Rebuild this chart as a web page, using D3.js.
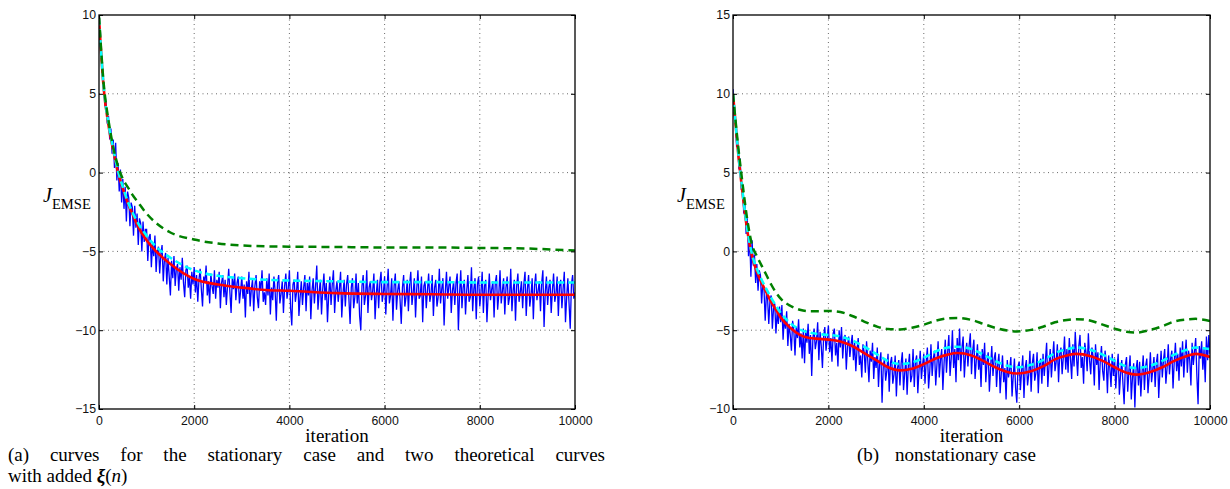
<!DOCTYPE html>
<html>
<head>
<meta charset="utf-8">
<script src="https://cdn.jsdelivr.net/npm/d3@7"></script>
<style>
body { margin: 0; background: #fff; }
svg { display: block; }
</style>
</head>
<body>
<svg id="chart" width="1230" height="489"></svg>
<script>
// tick values
const xTicks = [0, 2000, 4000, 6000, 8000, 10000];
const yTicksA = [-15, -10, -5, 0, 5, 10];
const yTicksB = [-10, -5, 0, 5, 10, 15];

// blue: simulated curve, one sample every 25 iterations
const blueStep = 25;
const blueA = [
  9.9, 8.4, 7.6, 6.1, 5.6, 4.3, 4.4, 3.1, 3.6, 2.1, 2.8, 1.2, 2.1, 0.3, 1.9, -0.5, 0.6, -1.2, 0.2, -1.9,
  -0.4, -2.3, -0.9, -3.1, -1.2, -1.6, -3.4, -1.9, -2.2, -4.0, -2.1, -3.5, -2.6, -4.6, -2.9, -3.2, -5.0, -3.1, -4.4, -3.6,
  -3.6, -5.6, -4.1, -3.9, -6.0, -4.5, -5.3, -4.0, -6.3, -5.0, -4.7, -6.4, -5.2, -4.6, -6.9, -5.5, -5.1, -7.1, -5.4, -6.6,
  -7.8, -5.6, -6.7, -5.3, -7.2, -6.1, -5.8, -7.5, -6.0, -6.8, -5.4, -7.0, -7.9, -6.2, -5.9, -7.3, -6.6, -8.0, -6.3, -7.1,
  -6.0, -7.6, -6.5, -8.2, -6.8, -6.1, -7.4, -8.5, -6.6, -7.0, -5.9, -7.8, -6.9, -8.3, -6.4, -7.2, -7.7, -6.2, -8.0, -6.8,
  -7.3, -6.3, -8.6, -7.0, -6.5, -7.9, -6.8, -8.4, -7.2, -6.1, -7.6, -8.9, -6.7, -7.4, -6.4, -8.1, -7.0, -6.6, -8.3, -7.5,
  -6.6, -8.0, -7.1, -9.2, -6.9, -7.7, -6.3, -8.5, -7.4, -6.8, -8.8, -7.2, -6.5, -7.9, -8.6, -6.9, -7.5, -6.2, -8.2, -7.6,
  -8.4, -6.7, -7.8, -6.4, -9.0, -7.3, -8.1, -6.6, -7.5, -9.4, -7.0, -6.5, -8.3, -7.7, -6.9, -8.9, -7.2, -6.4, -8.0, -7.4,
  -6.2, -8.6, -9.7, -7.1, -6.8, -8.2, -7.6, -6.3, -9.1, -7.9, -6.9, -8.4, -7.3, -6.5, -8.8, -7.0, -7.8, -6.6, -9.3, -7.5,
  -6.7, -8.3, -7.2, -5.9, -8.7, -7.6, -6.8, -9.0, -7.4, -6.4, -8.1, -7.0, -9.5, -7.8, -6.6, -8.4, -7.1, -6.2, -8.9, -7.5,
  -6.9, -8.2, -7.4, -6.3, -9.2, -7.7, -6.8, -8.5, -7.1, -6.5, -8.0, -9.6, -7.3, -6.7, -8.6, -7.9, -6.4, -8.3, -7.0, -9.1,
  -10.0, -7.2, -6.5, -8.4, -7.8, -6.2, -8.9, -7.3, -6.9, -8.1, -7.5, -6.4, -9.3, -7.7, -6.8, -8.6, -7.0, -6.3, -8.2, -7.6,
  -6.6, -9.0, -7.4, -6.1, -8.3, -7.8, -6.7, -9.4, -7.2, -6.4, -8.7, -7.5, -6.9, -8.1, -9.6, -7.3, -6.5, -8.5, -7.9, -6.8,
  -8.8, -7.1, -6.3, -8.4, -7.6, -6.7, -9.2, -7.4, -6.2, -8.0, -7.8, -6.6, -9.5, -7.2, -6.9, -8.6, -7.5, -6.4, -8.2, -7.7,
  -6.5, -9.1, -7.3, -6.8, -8.5, -7.9, -6.1, -8.3, -7.4, -6.7, -9.7, -7.6, -6.3, -8.0, -7.2, -6.6, -8.9, -7.5, -6.9, -8.4,
  -7.0, -6.4, -10.0, -7.7, -6.2, -8.6, -7.3, -6.8, -9.0, -7.5, -6.5, -8.2, -7.9, -6.0, -8.8, -7.4, -6.7, -9.3, -7.1, -6.6,
  -8.5, -7.6, -6.3, -8.9, -7.2, -6.8, -9.5, -7.8, -6.4, -8.1, -7.4, -6.9, -9.2, -7.0, -6.5, -8.7, -7.7, -6.2, -8.3, -7.5,
  -6.7, -9.0, -7.3, -6.6, -8.4, -7.9, -6.1, -8.8, -7.5, -6.8, -9.4, -7.2, -6.4, -8.2, -7.6, -6.9, -8.6, -7.1, -6.3, -9.1,
  -7.4, -6.5, -8.5, -7.8, -6.7, -9.3, -7.2, -6.4, -8.1, -7.5, -6.9, -8.8, -7.0, -6.2, -9.8, -7.6, -6.6, -8.4, -7.3, -6.8,
  -8.9, -7.5, -6.4, -8.2, -7.7, -6.6, -9.1, -7.2, -6.8, -8.6, -7.4, -6.3, -9.5, -7.9, -6.7, -8.3, -9.9, -7.1, -6.5, -8.0, -7.6
];
const blueB = [
  10.3, 8.6, 8.3, 6.7, 6.8, 5.2, 5.9, 3.9, 4.3, 2.4, 3.2, 1.1, 2.1, -0.3, 0.9, -1.6, 0.7, -0.9, -0.2, -2.0,
  -0.8, -2.5, -1.2, -1.5, -3.3, -2.0, -2.4, -4.4, -2.7, -3.0, -4.6, -3.1, -2.8, -4.9, -3.6, -3.3, -5.2, -3.9, -4.6, -3.5,
  -4.5, -3.4, -5.6, -4.2, -4.9, -3.8, -6.0, -4.6, -5.3, -6.3, -4.4, -5.0, -6.6, -4.8, -5.5, -4.3, -6.1, -5.2, -6.8, -4.9,
  -7.1, -5.0, -5.8, -4.6, -6.5, -5.3, -7.9, -5.5, -4.9, -6.2, -5.7, -4.5, -6.9, -5.1, -6.0, -7.4, -5.4, -4.8, -6.3, -5.6,
  -4.7, -6.4, -5.5, -7.0, -5.2, -4.9, -6.6, -5.8, -7.3, -5.0, -6.1, -4.8, -6.8, -5.6, -5.3, -7.5, -6.0, -5.4, -6.7, -5.9,
  -5.3, -6.9, -5.8, -7.6, -6.2, -5.5, -7.2, -6.6, -8.0, -5.9, -6.4, -7.7, -5.7, -6.9, -8.3, -6.3, -7.0, -5.8, -8.1, -6.7,
  -7.4, -6.1, -8.6, -7.0, -6.4, -9.6, -7.3, -6.8, -8.2, -7.6, -6.5, -8.9, -7.1, -6.7, -8.4, -7.8, -6.6, -9.2, -7.4, -6.9,
  -8.5, -7.1, -6.4, -8.8, -7.7, -6.8, -9.1, -7.3, -6.5, -8.3, -7.9, -6.2, -8.6, -7.0, -6.6, -9.0, -7.5, -6.3, -8.1, -7.2,
  -6.5, -8.4, -7.0, -6.1, -8.7, -7.6, -5.9, -7.9, -6.8, -6.3, -8.5, -7.2, -5.7, -8.0, -6.9, -6.2, -8.8, -7.1, -5.6, -7.7,
  -6.4, -5.3, -7.9, -6.8, -5.0, -7.4, -6.2, -8.3, -5.5, -6.9, -4.9, -7.6, -6.1, -5.4, -8.0, -6.6, -5.8, -7.3, -6.0, -5.2,
  -7.8, -6.3, -5.6, -8.1, -6.9, -5.9, -7.5, -6.6, -8.6, -6.2, -7.2, -5.8, -8.3, -7.0, -6.4, -8.9, -7.4, -6.0, -7.9, -6.8,
  -6.4, -8.6, -7.2, -6.5, -9.0, -7.7, -6.6, -8.3, -7.4, -9.4, -6.9, -8.0, -7.5, -6.7, -9.2, -7.9, -6.8, -8.7, -9.6, -7.3,
  -7.0, -8.8, -7.6, -6.6, -9.3, -7.4, -6.9, -8.5, -7.8, -6.3, -8.9, -7.1, -6.5, -8.2, -7.7, -6.4, -9.0, -7.2, -6.8, -8.4,
  -6.5, -7.9, -6.9, -5.8, -8.6, -7.3, -6.2, -8.0, -6.8, -5.7, -7.6, -7.0, -5.9, -8.3, -6.5, -6.1, -7.8, -6.7, -5.4, -7.5,
  -6.2, -7.7, -5.5, -6.8, -8.1, -5.9, -7.3, -5.1, -6.6, -7.9, -6.0, -5.3, -7.4, -6.7, -8.4, -5.8, -6.4, -7.6, -5.2, -6.9,
  -7.8, -6.1, -6.7, -8.5, -5.9, -7.2, -6.4, -8.8, -6.9, -6.0, -7.6, -8.2, -6.3, -7.0, -9.0, -6.6, -7.4, -8.6, -6.5, -7.9,
  -6.8, -8.7, -7.4, -6.5, -9.1, -7.8, -6.9, -8.4, -9.7, -7.2, -6.7, -8.9, -7.6, -6.6, -9.4, -8.0, -7.1, -9.9, -7.5, -6.9,
  -8.5, -7.0, -9.2, -7.7, -6.6, -8.8, -7.3, -6.8, -9.0, -7.9, -6.4, -8.3, -7.5, -6.7, -8.6, -7.1, -6.5, -9.3, -7.6, -6.3,
  -8.0, -6.9, -6.2, -8.4, -7.4, -5.9, -7.8, -6.8, -6.3, -8.7, -7.0, -5.8, -7.6, -6.5, -8.2, -6.1, -7.3, -5.7, -8.0, -6.6,
  -5.6, -7.7, -6.3, -6.9, -8.5, -5.8, -7.2, -6.4, -5.5, -7.9, -9.7, -6.0, -6.8, -5.7, -7.5, -6.2, -8.3, -5.4, -6.9, -5.3, -6.5
];

// theoretical curves, panel (a)
const theoryXA = [0, 100, 200, 300, 400, 500, 600, 700, 800, 1000, 1200, 1500, 2000, 2500, 3000, 3500, 4000, 5000, 6000, 7000, 8000, 9000, 10000];
const redA   = [9.8, 5.3, 3.0, 1.4, 0.0, -1.0, -1.9, -2.6, -3.3, -4.3, -5.0, -5.8, -6.75, -7.1, -7.3, -7.45, -7.5, -7.65, -7.7, -7.72, -7.75, -7.75, -7.75];
const cyanA  = [9.8, 5.4, 3.1, 1.5, 0.1, -0.9, -1.8, -2.5, -3.1, -4.0, -4.7, -5.4, -6.2, -6.55, -6.7, -6.8, -6.85, -6.9, -6.95, -6.95, -6.97, -6.97, -6.97];
const greenA = [9.9, 5.6, 3.3, 1.6, 0.4, -0.4, -0.9, -1.4, -1.8, -2.6, -3.2, -3.8, -4.25, -4.5, -4.62, -4.68, -4.7, -4.72, -4.75, -4.75, -4.78, -4.82, -4.95];

// theoretical curves, panel (b)
const theoryXB = [0, 100, 200, 300, 400, 500, 600, 700, 800, 900, 1000, 1200, 1400, 1600, 1800, 2000, 2250, 2500, 2750, 3000, 3250, 3500, 3750, 4000, 4250, 4500, 4700, 5000, 5250, 5500, 5750, 5950, 6250, 6500, 6750, 7000, 7200, 7500, 7750, 8000, 8250, 8450, 8750, 9000, 9250, 9500, 9700, 10000];
const redB   = [10, 6.5, 3.7, 1.3, -0.3, -1.3, -2.0, -2.6, -3.2, -3.7, -4.2, -4.85, -5.3, -5.5, -5.55, -5.6, -5.72, -6.0, -6.45, -6.9, -7.35, -7.55, -7.45, -7.15, -6.8, -6.55, -6.45, -6.6, -6.95, -7.35, -7.65, -7.75, -7.6, -7.3, -6.85, -6.6, -6.5, -6.65, -6.95, -7.35, -7.7, -7.82, -7.65, -7.35, -6.95, -6.65, -6.5, -6.7];
const cyanB  = [10, 6.6, 3.8, 1.4, -0.2, -1.1, -1.8, -2.4, -2.95, -3.45, -3.9, -4.55, -4.95, -5.15, -5.25, -5.3, -5.4, -5.65, -6.05, -6.5, -6.95, -7.15, -7.05, -6.75, -6.35, -6.1, -6.05, -6.2, -6.55, -6.95, -7.25, -7.35, -7.2, -6.9, -6.45, -6.2, -6.1, -6.25, -6.55, -6.95, -7.3, -7.4, -7.25, -6.95, -6.55, -6.25, -6.1, -6.2];
const greenB = [10, 6.9, 4.3, 2.0, 0.4, -0.3, -0.9, -1.5, -2.1, -2.6, -3.0, -3.45, -3.7, -3.8, -3.8, -3.78, -3.85, -4.1, -4.45, -4.75, -4.93, -4.95, -4.85, -4.65, -4.4, -4.25, -4.22, -4.35, -4.6, -4.85, -5.02, -5.08, -4.98, -4.78, -4.5, -4.35, -4.3, -4.4, -4.65, -4.9, -5.1, -5.15, -4.98, -4.75, -4.45, -4.32, -4.28, -4.42];

var svg = d3.select("#chart");
var sans = "'Liberation Sans', Arial, Helvetica, sans-serif";
var serif = "'Liberation Serif', 'Times New Roman', Times, serif";
var minusFmt = function (d) { return String(d).replace("-", "\u2212"); };

function drawPanel(id, left, right, top, bottom, yDomain, yTicks, blue, tx, red, cyan, green) {
	var x = d3.scaleLinear().domain([0, 10000]).range([left, right]);
	var y = d3.scaleLinear().domain(yDomain).range([bottom, top]);
	var g = svg.append("g");

	g.append("clipPath").attr("id", "clip" + id).append("rect")
		.attr("x", left).attr("y", top).attr("width", right - left).attr("height", bottom - top);

	// dotted grid
	g.selectAll("line.gx").data(xTicks.slice(1, -1)).enter().append("line")
		.attr("x1", function (d) { return x(d); }).attr("x2", function (d) { return x(d); })
		.attr("y1", top).attr("y2", bottom)
		.attr("stroke", "#444").attr("stroke-width", 0.8).attr("stroke-dasharray", "1,3.5");
	g.selectAll("line.gy").data(yTicks.slice(1, -1)).enter().append("line")
		.attr("y1", function (d) { return y(d); }).attr("y2", function (d) { return y(d); })
		.attr("x1", left).attr("x2", right)
		.attr("stroke", "#444").attr("stroke-width", 0.8).attr("stroke-dasharray", "1,3.5");

	var plot = g.append("g").attr("clip-path", "url(#clip" + id + ")");
	var blueLine = d3.line().x(function (d, i) { return x(i * blueStep); }).y(function (d) { return y(d); });
	plot.append("path").datum(blue).attr("d", blueLine)
		.attr("fill", "none").attr("stroke", "#0000ff").attr("stroke-width", 1.3).attr("stroke-linejoin", "miter");

	var smooth = d3.line().x(function (d) { return x(d[0]); }).y(function (d) { return y(d[1]); }).curve(d3.curveMonotoneX);
	plot.append("path").datum(d3.zip(tx, red)).attr("d", smooth)
		.attr("fill", "none").attr("stroke", "#ff0000").attr("stroke-width", 2.6);
	plot.append("path").datum(d3.zip(tx, cyan)).attr("d", smooth)
		.attr("fill", "none").attr("stroke", "#00ffff").attr("stroke-width", 2.6).attr("stroke-dasharray", "7,4");
	plot.append("path").datum(d3.zip(tx, green)).attr("d", smooth)
		.attr("fill", "none").attr("stroke", "#008000").attr("stroke-width", 2.5).attr("stroke-dasharray", "8,5");

	// axes, ticks pointing inward
	g.append("g").attr("transform", "translate(0," + bottom + ")")
		.call(d3.axisBottom(x).tickValues(xTicks).tickSize(-4).tickPadding(7).tickFormat(d3.format("d")));
	g.append("g").attr("transform", "translate(" + left + ",0)")
		.call(d3.axisLeft(y).tickValues(yTicks).tickSize(-4).tickPadding(3).tickFormat(minusFmt));
	g.append("g").attr("transform", "translate(0," + top + ")")
		.call(d3.axisTop(x).tickValues(xTicks).tickSize(-4).tickFormat(""));
	g.append("g").attr("transform", "translate(" + right + ",0)")
		.call(d3.axisRight(y).tickValues(yTicks).tickSize(-4).tickFormat(""));
	g.selectAll(".domain").remove();
	g.selectAll(".tick line").attr("stroke", "#000").attr("stroke-width", 1);
	g.selectAll(".tick text").attr("font-family", sans).attr("font-size", 12.3).attr("fill", "#111");

	g.append("rect").attr("x", left).attr("y", top).attr("width", right - left).attr("height", bottom - top)
		.attr("fill", "none").attr("stroke", "#000").attr("stroke-width", 1.3);

	g.append("text").attr("x", (left + right) / 2).attr("y", 442).attr("text-anchor", "middle")
		.attr("font-family", serif).attr("font-size", 19).text("iteration");

	var yl = g.append("text").attr("x", left - 56).attr("y", 202).attr("font-family", serif);
	yl.append("tspan").attr("font-style", "italic").attr("font-size", 20).text("J");
	yl.append("tspan").attr("font-size", 14.6).attr("dy", 7).text("EMSE");
	return g;
}

drawPanel("a", 99, 575, 15, 409, [-15, 10], yTicksA, blueA, theoryXA, redA, cyanA, greenA);
drawPanel("b", 733, 1210, 15, 409, [-10, 15], yTicksB, blueB, theoryXB, redB, cyanB, greenB);

// captions
function justify(words, x0, x1, baseline) {
	var items = words.map(function (w) {
		return svg.append("text").attr("y", baseline).attr("font-family", serif).attr("font-size", 19).text(w);
	});
	var widths = items.map(function (t) { return t.node().getComputedTextLength(); });
	var gap = (x1 - x0 - d3.sum(widths)) / (words.length - 1);
	var cx = x0;
	items.forEach(function (t, i) { t.attr("x", cx); cx += widths[i] + gap; });
}
justify(["(a)", "curves", "for", "the", "stationary", "case", "and", "two", "theoretical", "curves"], 8, 605, 461);

var cap2 = svg.append("text").attr("x", 8).attr("y", 482).attr("font-family", serif).attr("font-size", 19);
cap2.append("tspan").text("with added ");
cap2.append("tspan").attr("font-weight", "bold").attr("font-style", "italic").text("\u03BE");
cap2.append("tspan").text("(");
cap2.append("tspan").attr("font-style", "italic").text("n");
cap2.append("tspan").text(")");

svg.append("text").attr("x", 857).attr("y", 461).attr("font-family", serif).attr("font-size", 19).text("(b)");
svg.append("text").attr("x", 895).attr("y", 461).attr("font-family", serif).attr("font-size", 19).text("nonstationary case");
</script>
</body>
</html>
